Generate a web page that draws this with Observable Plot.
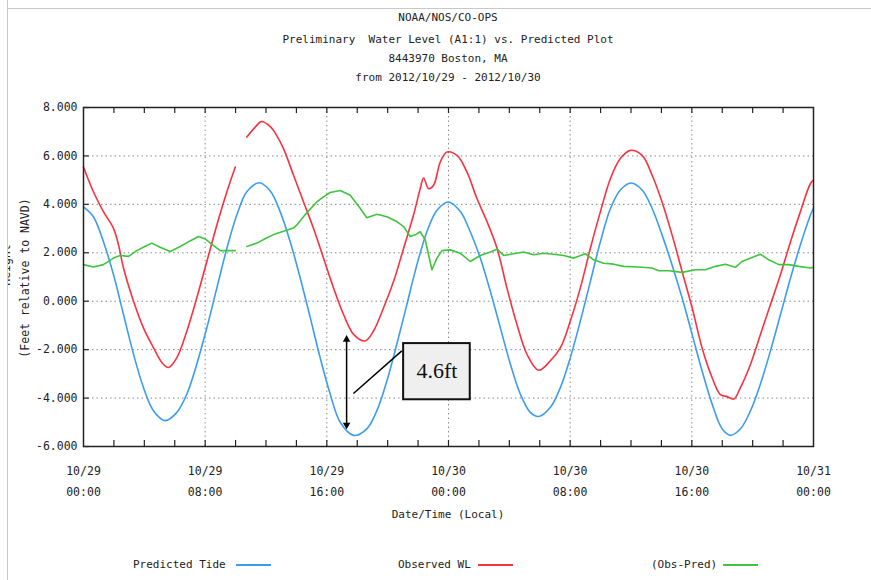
<!DOCTYPE html>
<html><head><meta charset="utf-8">
<script src="https://cdn.jsdelivr.net/npm/d3@7"></script>
<script src="https://cdn.jsdelivr.net/npm/@observablehq/plot@0.6"></script>
<style>
body{margin:0;background:#fff;}
#page{position:relative;width:871px;height:580px;overflow:hidden;font-family:"DejaVu Sans Mono",monospace;color:#222;background:#fff;}
.t{position:absolute;white-space:pre;font-size:11px;line-height:14px;}
.title{left:0;width:896px;text-align:center;}
.sw{position:absolute;height:2px;}
#chart{position:absolute;left:0;top:90px;}
#mask{position:absolute;left:0;top:0;width:7px;height:580px;background:#fff;border-right:1px solid #c8c8c8;z-index:5;}
#topline{position:absolute;left:0;top:8px;width:871px;height:0;border-top:1px solid #c8c8c8;}
.ylab{position:absolute;font-size:11.5px;line-height:14px;white-space:pre;transform:translate(-50%,-50%) rotate(-90deg);}
</style></head><body>
<div id="page">
  <div id="topline"></div>
  <div class="t title" style="top:11px">NOAA/NOS/CO-OPS</div>
  <div class="t title" style="top:33px">Preliminary  Water Level (A1:1) vs. Predicted Plot</div>
  <div class="t title" style="top:52px">8443970 Boston, MA</div>
  <div class="t title" style="top:71px">from 2012/10/29 - 2012/10/30</div>
  <div id="chart"></div>
  <div class="ylab" style="left:6px;top:265px">Height</div>
  <div class="ylab" style="left:25px;top:278px">(Feet relative to NAVD)</div>
  <div id="mask"></div>
  <div class="t" style="left:0;width:896px;text-align:center;top:508px">Date/Time (Local)</div>
  <div id="legend"></div>
</div>
<script>
// ---- data (hours from 2012/10/29 00:00, feet relative to NAVD) ----
const predHours = [0,0.65,1.31,1.97,2.63,3.29,3.94,4.6,5.37,6.14,6.8,7.45,8.11,8.77,9.43,10.08,10.74,11.55,12.28,12.93,13.59,14.25,14.91,15.56,16.22,16.88,17.76,18.63,19.29,19.95,20.6,21.26,21.92,22.58,23.24,24.0,24.78,25.43,26.09,26.75,27.41,28.07,28.72,29.38,29.93,30.7,31.36,32.01,32.67,33.33,33.99,34.65,35.3,36.0,36.73,37.39,38.04,38.7,39.36,40.02,40.67,41.33,41.99,42.54,43.2,43.86,44.51,45.17,45.83,46.49,47.14,47.8,48];
const predFeet  = [3.9,3.49,2.46,1.1,-0.55,-2.19,-3.56,-4.52,-4.93,-4.59,-3.83,-2.6,-1.1,0.55,2.19,3.56,4.52,4.89,4.55,3.7,2.46,0.96,-0.68,-2.33,-3.83,-5.0,-5.54,-5.27,-4.52,-3.29,-1.78,-0.14,1.5,2.87,3.76,4.1,3.7,2.87,1.78,0.41,-1.1,-2.6,-3.83,-4.59,-4.76,-4.38,-3.56,-2.33,-0.82,0.82,2.46,3.83,4.59,4.88,4.59,3.83,2.74,1.5,0.14,-1.37,-2.87,-4.24,-5.27,-5.54,-5.27,-4.52,-3.42,-2.05,-0.55,0.96,2.33,3.56,3.85];

const obsHours = [0,0.65,1.31,1.97,2.3,2.63,3.29,3.94,4.6,5.15,5.59,6.14,6.8,7.45,8.11,8.77,9.43,9.98,10.4,10.74,11.29,11.7,12.3,12.6,13.15,13.81,14.47,15.12,15.78,16.44,17.1,17.76,18.52,19.07,19.73,20.39,21.05,21.7,22.14,22.36,22.69,23.02,23.46,23.9,24.56,25.21,25.87,26.53,27.19,27.84,28.5,29.16,29.93,30.7,31.36,32.01,32.67,33.33,33.99,34.65,35.3,35.96,36.73,37.39,38.04,38.7,39.36,40.02,40.67,41.33,41.88,42.32,42.76,43.2,43.86,44.51,45.17,45.83,46.49,47.14,47.8,48];
const obsFeet  = [5.54,4.52,3.7,3.01,2.33,1.37,0.0,-1.1,-1.92,-2.53,-2.74,-2.33,-1.23,0.14,1.64,3.15,4.52,5.54,NaN,6.78,7.19,7.42,7.2,6.95,6.3,5.2,4.1,3.01,1.78,0.55,-0.55,-1.37,-1.64,-1.23,-0.27,0.82,2.19,3.56,4.65,5.09,4.65,4.79,5.75,6.16,6.02,5.34,4.24,3.29,2.19,0.55,-0.96,-2.19,-2.85,-2.46,-1.92,-0.82,0.55,2.19,3.7,5.07,5.89,6.23,6.02,5.2,4.1,2.74,1.23,-0.27,-1.92,-3.15,-3.86,-3.94,-4.04,-3.56,-2.6,-1.37,-0.14,1.1,2.46,3.7,4.86,5.0];

const diffHours = [0,0.65,1.31,1.97,2.41,2.96,3.5,4.16,4.49,5.04,5.7,6.36,7.01,7.56,8.0,8.55,8.99,9.43,9.98,10.4,10.74,11.4,12.0,12.6,13.2,13.8,14.03,14.69,15.34,15.78,16.22,16.88,17.54,18.2,18.63,19.29,19.95,20.6,21.05,21.48,21.81,22.14,22.47,22.69,22.91,23.24,23.57,24.12,24.78,25.43,26.09,26.75,27.19,27.63,28.28,28.94,29.6,30.26,30.92,31.57,32.23,33.0,33.55,34.2,34.86,35.52,36.51,37.39,37.83,38.48,39.36,40.24,40.89,41.55,42.21,42.87,43.3,43.96,44.51,45.06,45.72,46.38,47.03,47.8,48];
const diffFeet  = [1.51,1.41,1.51,1.78,1.89,1.85,2.09,2.3,2.4,2.23,2.05,2.26,2.49,2.67,2.57,2.3,2.09,2.09,2.09,NaN,2.26,2.4,2.6,2.78,2.9,3.02,3.15,3.66,4.1,4.31,4.49,4.57,4.38,3.83,3.45,3.59,3.49,3.29,3.08,2.67,2.74,2.87,2.53,1.92,1.3,1.78,2.09,2.12,1.98,1.64,1.89,2.03,2.15,1.89,1.96,2.03,1.92,1.98,1.94,1.89,1.78,1.96,1.71,1.57,1.53,1.44,1.41,1.37,1.26,1.26,1.19,1.3,1.3,1.44,1.53,1.4,1.64,1.81,1.94,1.71,1.51,1.51,1.44,1.37,1.4];

const seriesNames  = ["Predicted Tide", "Observed WL", "(Obs-Pred)"];
const seriesColors = ["#3b9cf2", "#f7333f", "#3ec43e"];

const xTicks = [0, 8, 16, 24, 32, 40, 48];
const xTickLabels = ["10/29\n00:00", "10/29\n08:00", "10/29\n16:00", "10/30\n00:00", "10/30\n08:00", "10/30\n16:00", "10/31\n00:00"];
const minorHours = [2,4,6,8,10,12,14,16,18,20,22,24,26,28,30,32,34,36,38,40,42,44,46];
const yTicks = [-6, -4, -2, 0, 2, 4, 6, 8];
const gridHours = [8, 16, 24, 32, 40];
const gridFeet = [-4, -2, 0, 2, 4, 6];

// annotation (data units)
const arrowHour = 17.3, arrowTop = -1.58, arrowBottom = -5.11;
const leader = [{x1: 17.75, y1: -3.81, x2: 20.93, y2: -2.05}];
const noteBox = [{x1: 21.05, x2: 25.43, y1: -1.75, y2: -4.07}];
const noteText = [{h: 23.24, v: -2.9, label: "4.6ft"}];

const pred = predHours.map((h, i) => ({h, v: predFeet[i]}));
const obs  = obsHours.map((h, i) => ({h, v: obsFeet[i]}));
const diff = diffHours.map((h, i) => ({h, v: diffFeet[i]}));

const chart = Plot.plot({
  width: 871,
  height: 416,
  marginLeft: 83,
  marginRight: 58,
  marginTop: 17,
  marginBottom: 60,
  x: {domain: [0, 48], axis: null},
  y: {domain: [-6, 8], axis: null},
  style: {fontFamily: "DejaVu Sans Mono", fontSize: "11.5px", color: "#222", background: "transparent", overflow: "visible"},
  marks: [
    Plot.ruleX(gridHours, {x: d => d, stroke: "#8a8a8a", strokeWidth: 1, strokeDasharray: "1.5,3"}),
    Plot.ruleY(gridFeet, {y: d => d, stroke: "#8a8a8a", strokeWidth: 1, strokeDasharray: "1.5,3"}),
    Plot.ruleX(minorHours, {x: d => d, y1: -6, y2: -5.75, stroke: "#222", strokeWidth: 1.2}),
    Plot.ruleX(minorHours, {x: d => d, y1: 8, y2: 7.75, stroke: "#222", strokeWidth: 1.2}),
    Plot.ruleY(yTicks, {y: d => d, x1: 0, x2: 0.38, stroke: "#222", strokeWidth: 1.2}),
    Plot.line(pred, {x: "h", y: "v", stroke: seriesColors[0], strokeWidth: 1.6, curve: "catmull-rom"}),
    Plot.line(obs, {x: "h", y: "v", stroke: seriesColors[1], strokeWidth: 1.6, curve: "catmull-rom"}),
    Plot.line(diff, {x: "h", y: "v", stroke: seriesColors[2], strokeWidth: 1.6}),
    Plot.frame({stroke: "#222", strokeWidth: 1.5}),
    Plot.axisY({ticks: yTicks, tickFormat: d => d.toFixed(3), tickSize: 0, tickPadding: 6, label: null}),
    Plot.text(xTicks, {x: d => d, y: -6, text: (d, i) => xTickLabels[i], lineAnchor: "top", dy: 14, lineHeight: 1.78, fill: "#222"}),
    // annotation
    Plot.link([{a: arrowTop, b: arrowBottom}], {x1: () => arrowHour, x2: () => arrowHour, y1: "a", y2: "b", stroke: "#000", strokeWidth: 1.5}),
    Plot.dot([arrowTop], {x: () => arrowHour, y: d => d, symbol: "triangle2", r: 3.6, fill: "#000", stroke: "none"}),
    Plot.dot([arrowBottom], {x: () => arrowHour, y: d => d, symbol: "triangle2", r: 3.6, fill: "#000", stroke: "none", rotate: 180}),
    Plot.link(leader, {x1: "x1", y1: "y1", x2: "x2", y2: "y2", stroke: "#000", strokeWidth: 1.5}),
    Plot.rect(noteBox, {x1: "x1", x2: "x2", y1: "y1", y2: "y2", fill: "#efefef", stroke: "#111", strokeWidth: 2}),
    Plot.text(noteText, {x: "h", y: "v", text: "label", fontFamily: "Liberation Serif", fontSize: 22, fill: "#111"})
  ]
});
document.getElementById("chart").appendChild(chart);

// legend
const legendPos = [{tx: 133, lx: 236}, {tx: 398, lx: 478}, {tx: 651, lx: 723}];
const legend = document.getElementById("legend");
seriesNames.forEach((name, i) => {
  const t = document.createElement("div");
  t.className = "t";
  t.style.left = legendPos[i].tx + "px";
  t.style.top = "558px";
  t.textContent = name;
  legend.appendChild(t);
  const s = document.createElement("div");
  s.className = "sw";
  s.style.left = legendPos[i].lx + "px";
  s.style.top = "564px";
  s.style.width = "35px";
  s.style.background = seriesColors[i];
  legend.appendChild(s);
});
</script>
</body></html>
